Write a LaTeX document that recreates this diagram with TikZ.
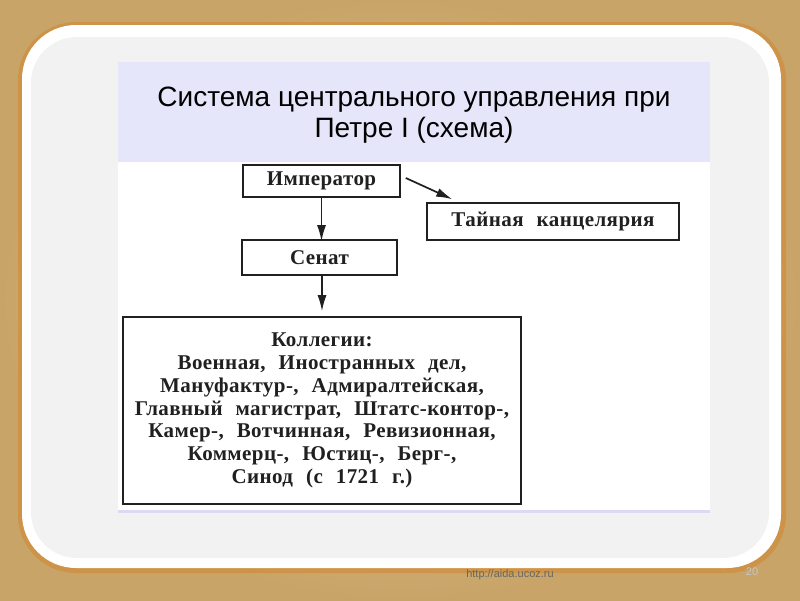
\documentclass[tikz,border=0pt]{standalone}
\usepackage{fontspec}
\setmainfont{Liberation Serif}
\newfontfamily\chartfont[LetterSpace=2, WordSpace={2.3}]{Liberation Serif}
\newfontfamily\headfont{Liberation Sans}
\usetikzlibrary{arrows.meta,calc}

\definecolor{mapTan}{RGB}{226,204,156}
\definecolor{mapDark}{RGB}{200,164,104}
\definecolor{glowOrange}{RGB}{208,142,62}
\definecolor{panelGray}{RGB}{242,242,242}
\definecolor{headLilac}{RGB}{230,230,250}
\definecolor{lineLilac}{RGB}{218,218,245}
\definecolor{inkGray}{RGB}{32,32,32}

\tikzset{every picture/.style={line width=0.75pt}}
\tikzset{
	orgbox/.style={draw=inkGray, line width=1.6pt, fill=white, inner sep=0pt, text=inkGray,
		font=\chartfont\bfseries\fontsize{21}{22.8}\selectfont, align=center},
	orgarrow/.style={draw=inkGray, line width=1.7pt, -{Latex[length=16pt,width=9pt]}}
}

\begin{document}
\begin{tikzpicture}[x=1pt,y=1pt,yscale=-1,xscale=1]
	\useasboundingbox (0,0) rectangle (800,600);

	%Shape: Rectangle [map background]
	\shade [inner color=mapTan, outer color=mapDark] (0,0) rectangle (800,600);
	%Shape: Rounded Rectangle [panel glow]
	\fill [glowOrange, opacity=0.75, rounded corners=58] (18,22) rectangle (786,573);
	%Shape: Rounded Rectangle [panel]
	\fill [white, rounded corners=54] (22,25) rectangle (781,568);
	%Shape: Rounded Rectangle [panel face]
	\fill [panelGray, rounded corners=46] (31,37) rectangle (769,558);
	%Shape: Rectangle [title band]
	\fill [headLilac] (118,62) rectangle (710,162);
	%Shape: Rectangle [chart area]
	\fill [white] (118,162) rectangle (710,510);
	%Straight Lines [chart underline]
	\draw [lineLilac, line width=3pt] (118,511.5) -- (710,511.5);

	% Text Node
	\node [font=\headfont\fontsize{28}{31.5}\selectfont, align=center, text=black] (title) at (414,115)
		{Система центрального управления при\\Петре I (схема)};

	% Text Node
	\node [orgbox, minimum width=157pt, minimum height=32pt] (imp) at (321.5,181) {Император};
	% Text Node
	\node [orgbox, minimum width=252pt, minimum height=37pt] (tai) at (553,221.5) {Тайная канцелярия};
	% Text Node
	\node [orgbox, minimum width=155pt, minimum height=35pt] (sen) at (319.5,257.5) {Сенат};
	% Text Node
	\node [orgbox, minimum width=398pt, minimum height=187pt] (kol) at (322,410.5)
		{Коллегии:\\
		Военная, Иностранных дел,\\
		Мануфактур-, Адмиралтейская,\\
		Главный магистрат, Штатс-контор-,\\
		Камер-, Вотчинная, Ревизионная,\\
		Коммерц-, Юстиц-, Берг-,\\
		Синод (с 1721 г.)};

	%Straight Lines
	\draw [orgarrow] (imp.south) -- ([yshift=2pt]imp.south |- sen.north);
	%Straight Lines
	\draw [orgarrow] ($(imp.east)+(5,-3)$) -- ($(tai.north west)+(26,-3)$);
	%Straight Lines
	\draw [orgarrow, shorten >=5pt] (sen.south -| kol.north) -- (kol.north);

	% Text Node
	\node [font=\headfont\fontsize{11}{13}\selectfont, text=black!60] (url) at (510,575) {http://aida.ucoz.ru};
	% Text Node
	\node [font=\headfont\fontsize{11}{13}\selectfont, text=black!22] (page) at (752,572) {20};

\end{tikzpicture}
\end{document}
